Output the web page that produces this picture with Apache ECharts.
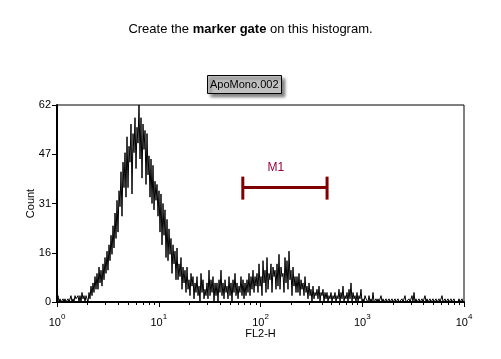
<!DOCTYPE html>
<html><head><meta charset="utf-8">
<script src="https://cdn.jsdelivr.net/npm/echarts@6/dist/echarts.min.js"></script>
<style>html,body{margin:0;padding:0;background:#fff}#c{width:501px;height:359px}</style>
</head><body><div id="c"></div>
<script>
// Histogram counts, evenly spaced channels across 4 log decades (10^0 .. 10^4)
const counts = [
0,2,0,1,0,0,1,0,1,0,
0,1,0,0,2,0,1,0,2,1,
1,2,0,2,0,3,1,2,0,2,
2,0,3,1,5,2,6,3,8,4,
9,4,11,6,10,5,12,7,14,9,
16,10,18,13,21,15,24,17,28,20,
32,22,35,30,41,27,44,36,47,33,
52,36,49,44,56,34,53,47,58,42,
55,50,62,45,58,39,56,48,54,37,
53,40,46,33,45,31,43,29,38,32,
37,27,35,22,34,18,31,21,29,14,
26,13,23,15,20,9,18,12,16,7,
17,7,12,8,14,4,11,6,10,3,
11,4,7,2,9,5,8,1,6,3,
8,2,5,0,9,3,7,1,4,2,
6,1,10,2,7,3,8,0,6,2,
6,0,7,3,10,2,6,1,7,3,
5,1,8,2,6,0,7,3,9,2,
6,1,5,3,8,2,7,1,6,2,
7,3,9,2,8,4,10,3,8,5,
9,3,12,5,8,2,13,6,10,3,
14,4,9,7,12,3,11,8,10,4,
12,5,15,4,11,8,9,3,14,6,
13,4,16,7,10,2,11,5,8,3,
8,3,9,2,7,4,6,2,8,3,
5,1,6,2,4,0,5,1,3,2,
4,1,5,0,3,2,4,0,3,1,
3,0,2,1,3,0,2,1,3,0,
2,1,4,0,3,1,5,0,2,1,
3,0,4,1,6,0,3,1,2,0,
3,0,2,1,4,0,1,0,2,1,
1,0,2,0,1,0,3,0,0,1,
0,1,0,0,2,0,1,0,0,1,
0,0,1,0,0,1,0,0,1,0,
0,1,0,0,0,1,0,0,2,0,
0,0,1,0,0,2,0,3,0,1,
0,0,1,0,0,1,0,0,2,0,
1,0,0,1,0,0,1,0,0,1,
0,0,1,0,0,2,0,0,1,0,
0,1,0,0,1,0,0,1,0,0,
0,0,1,0,0,1,0,0
];
const decades = [0, 1, 2, 3, 4];          // x tick labels: 10^0 .. 10^4
const yTicks = [0, 16, 31, 47, 62];       // y tick labels
const markerRange = [67, 451];            // M1 gate, FL2-H values
const markerLevel = [36];                 // M1 drawn at this count level
const markerName = ['M1'];

const N = counts.length;
const histData = counts.map((c, i) => [4 * i / (N - 1), c]);
const minorTicks = [];
for (let d = 0; d < 4; d++) for (let k = 2; k <= 9; k++) minorTicks.push(d + Math.log10(k));

const FONT = 'Liberation Sans';
const chart = echarts.init(document.getElementById('c'));
chart.setOption({
  animation: false,
  backgroundColor: '#fff',
  title: [
    {
      text: '{n|Create the }{b|marker gate}{n| on this histogram.}',
      left: 'center', top: 18,
      textStyle: { fontWeight: 'normal', fontFamily: FONT, fontSize: 13, rich: {
        n: { fontFamily: FONT, fontSize: 13, fontWeight: 'normal', color: '#000' },
        b: { fontFamily: FONT, fontSize: 13, fontWeight: 'bold', color: '#000' }
      } }
    },
    {
      text: 'ApoMono.002',
      left: 207, top: 75,
      padding: [3, 3, 3, 3],
      backgroundColor: '#c0c0c0',
      borderColor: '#000', borderWidth: 1,
      shadowColor: 'rgba(0,0,0,0.5)', shadowBlur: 3, shadowOffsetX: 3, shadowOffsetY: 3,
      textStyle: { fontFamily: FONT, fontSize: 11, fontWeight: 'normal', color: '#000', lineHeight: 13 }
    }
  ],
  grid: { left: 57, right: 37, top: 105, bottom: 57, show: true, borderColor: '#000', borderWidth: 1, backgroundColor: 'transparent' },
  xAxis: [
    {
      type: 'value', min: 0, max: 4, interval: 1,
      name: 'FL2-H', nameLocation: 'middle', nameGap: 26, nameMoveOverlap: false,
      nameTextStyle: { fontFamily: FONT, fontSize: 11, color: '#000' },
      axisLine: { lineStyle: { color: '#000', width: 2 } },
      axisTick: { show: true, length: 5, lineStyle: { color: '#000', width: 1 } },
      splitLine: { show: false },
      axisLabel: {
        margin: 9,
        formatter: v => '{b|10}{s|' + decades[Math.round(v)] + '}',
        rich: {
          b: { fontFamily: FONT, fontSize: 11, color: '#000', padding: [6, 0, 0, 0] },
          s: { fontFamily: FONT, fontSize: 8, color: '#000', padding: [0, 0, 6, 0] }
        }
      }
    },
    {
      type: 'value', min: 0, max: 4, position: 'bottom',
      axisLine: { show: false },
      axisLabel: { show: false },
      splitLine: { show: false },
      axisTick: { show: true, length: 3, customValues: minorTicks, lineStyle: { color: '#000', width: 1 } }
    }
  ],
  yAxis: {
    type: 'value', min: 0, max: 62, interval: 15.5,
    name: 'Count', nameLocation: 'middle', nameGap: 21, nameMoveOverlap: false,
    nameTextStyle: { fontFamily: FONT, fontSize: 11, color: '#000' },
    axisLine: { show: true, lineStyle: { color: '#000', width: 2 } },
    axisTick: { show: true, length: 5, lineStyle: { color: '#000', width: 1 } },
    splitLine: { show: false },
    axisLabel: {
      margin: 6, fontFamily: FONT, fontSize: 11, color: '#000',
      formatter: v => String(yTicks[Math.round(v / 15.5)])
    }
  },
  series: [
    {
      type: 'line', data: histData, symbol: 'none', clip: true,
      lineStyle: { color: '#000', width: 1 }
    },
    {
      type: 'custom',
      data: [[Math.log10(markerRange[0]), Math.log10(markerRange[1]), markerLevel[0]]],
      renderItem: (params, api) => {
        const p1 = api.coord([api.value(0), api.value(2)]);
        const p2 = api.coord([api.value(1), api.value(2)]);
        const col = '#800000';
        return {
          type: 'group', children: [
            { type: 'line', shape: { x1: p1[0], y1: p1[1], x2: p2[0], y2: p2[1] }, style: { stroke: col, lineWidth: 3 } },
            { type: 'line', shape: { x1: p1[0], y1: p1[1] - 11, x2: p1[0], y2: p1[1] + 12 }, style: { stroke: col, lineWidth: 3 } },
            { type: 'line', shape: { x1: p2[0], y1: p2[1] - 11, x2: p2[0], y2: p2[1] + 12 }, style: { stroke: col, lineWidth: 3 } },
            { type: 'text', style: { text: markerName[0], x: p1[0] + 33, y: p1[1] - 20, align: 'center', verticalAlign: 'middle', fill: '#990040', font: '12px ' + FONT } }
          ]
        };
      }
    }
  ]
});
</script></body></html>
